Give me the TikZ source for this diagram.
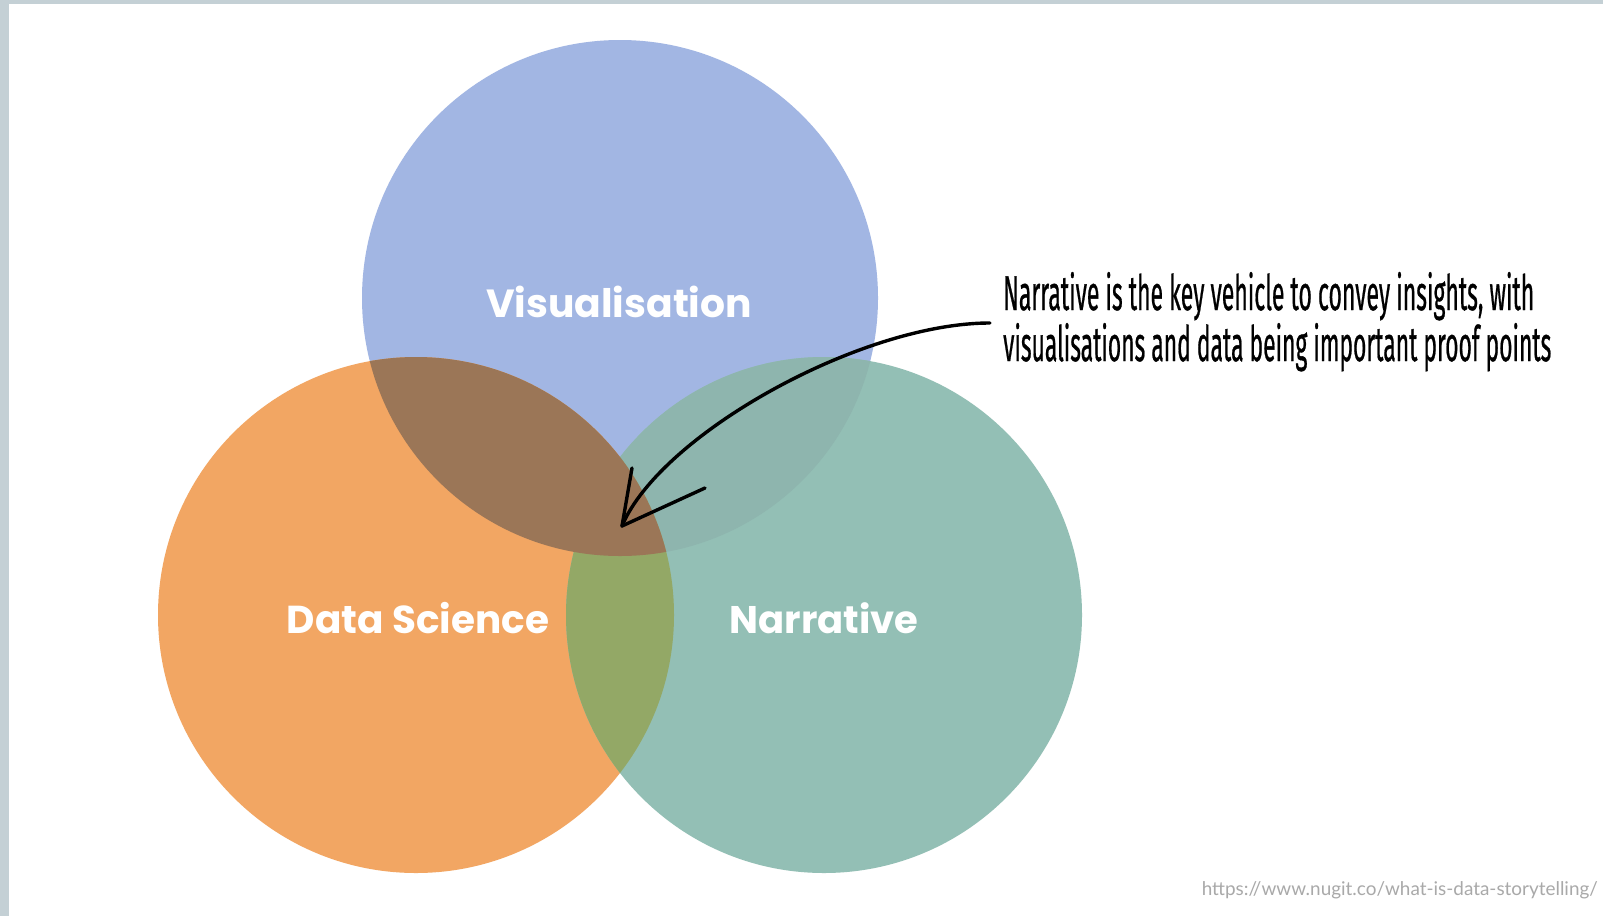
\documentclass[tikz,border=0pt]{standalone}
\usepackage{fontspec}
\usepackage{graphicx}
\setmainfont{Poppins}
\newfontfamily\handfont[FakeBold=0.9]{Fira Sans}
\newfontfamily\urlfont{Lato}
\definecolor{frame}{HTML}{C4D0D5}
\definecolor{vis}{HTML}{A2B6E3}
\definecolor{dsc}{HTML}{F2A663}
\definecolor{nar}{HTML}{93BFB5}
\definecolor{visdsc}{HTML}{9B7657}
\definecolor{dscnar}{HTML}{93A866}
\definecolor{visnar}{HTML}{8EB5AE}
\definecolor{urlgray}{HTML}{A9A9A9}
\tikzset{
  setlabel/.style={text=white, font=\bfseries, inner sep=0pt},
  handline/.style={anchor=base west, inner sep=0pt, font=\handfont},
  pointer/.style={line width=3.4pt, line cap=round, line join=round, black}
}
\begin{document}
\begin{tikzpicture}[x=1pt, y=-1pt]
  % page frame
  \fill[frame] (0,0) rectangle (1603,916);
  \fill[white] (9,4) rectangle (1603,916);
  \useasboundingbox (0,0) rectangle (1603,916);

  % circle centres
  \coordinate (cv) at (620,298);
  \coordinate (cd) at (416,615);
  \coordinate (cn) at (824,615);
  \def\rad{258}

  % the three sets
  \fill[vis] (cv) circle[radius=\rad];
  \fill[dsc] (cd) circle[radius=\rad];
  \fill[nar] (cn) circle[radius=\rad];

  % pairwise overlaps
  \begin{scope}
    \clip (cv) circle[radius=\rad];
    \fill[visnar] (cn) circle[radius=\rad];
  \end{scope}
  \begin{scope}
    \clip (cd) circle[radius=\rad];
    \fill[dscnar] (cn) circle[radius=\rad];
  \end{scope}
  \begin{scope}
    \clip (cv) circle[radius=\rad];
    \fill[visdsc] (cd) circle[radius=\rad];
  \end{scope}

  % set names
  \node[setlabel] (lv) at (619,302) {\resizebox{266pt}{!}{Visualisation}};
  \node[setlabel] (ld) at (418,618) {\resizebox{262pt}{!}{Data Science}};
  \node[setlabel] (ln) at (824,618) {\resizebox{189pt}{!}{Narrative}};

  % annotation
  \node[handline] (t1) at (1003,310) {\resizebox{531pt}{38pt}{Narrative is the key vehicle to convey insights, with}};
  \node[handline] (t2) at (1003,361) {\resizebox{548pt}{38pt}{visualisations and data being important proof points}};

  % pointer from the annotation into the centre
  \coordinate (from) at (990,323);
  \coordinate (tip) at (622,526);
  \coordinate (armA) at (632,468);
  \coordinate (armB) at (705,488);
  \draw[pointer] (from) .. controls (860,323) and (660,435) .. (tip);
  \draw[pointer] (armA) -- (tip) -- (armB);

  % source
  \node[anchor=east, inner sep=0pt, text=urlgray, font=\urlfont] (src) at (1598,890)
    {\resizebox{396pt}{!}{https://www.nugit.co/what-is-data-storytelling/}};
\end{tikzpicture}
\end{document}
